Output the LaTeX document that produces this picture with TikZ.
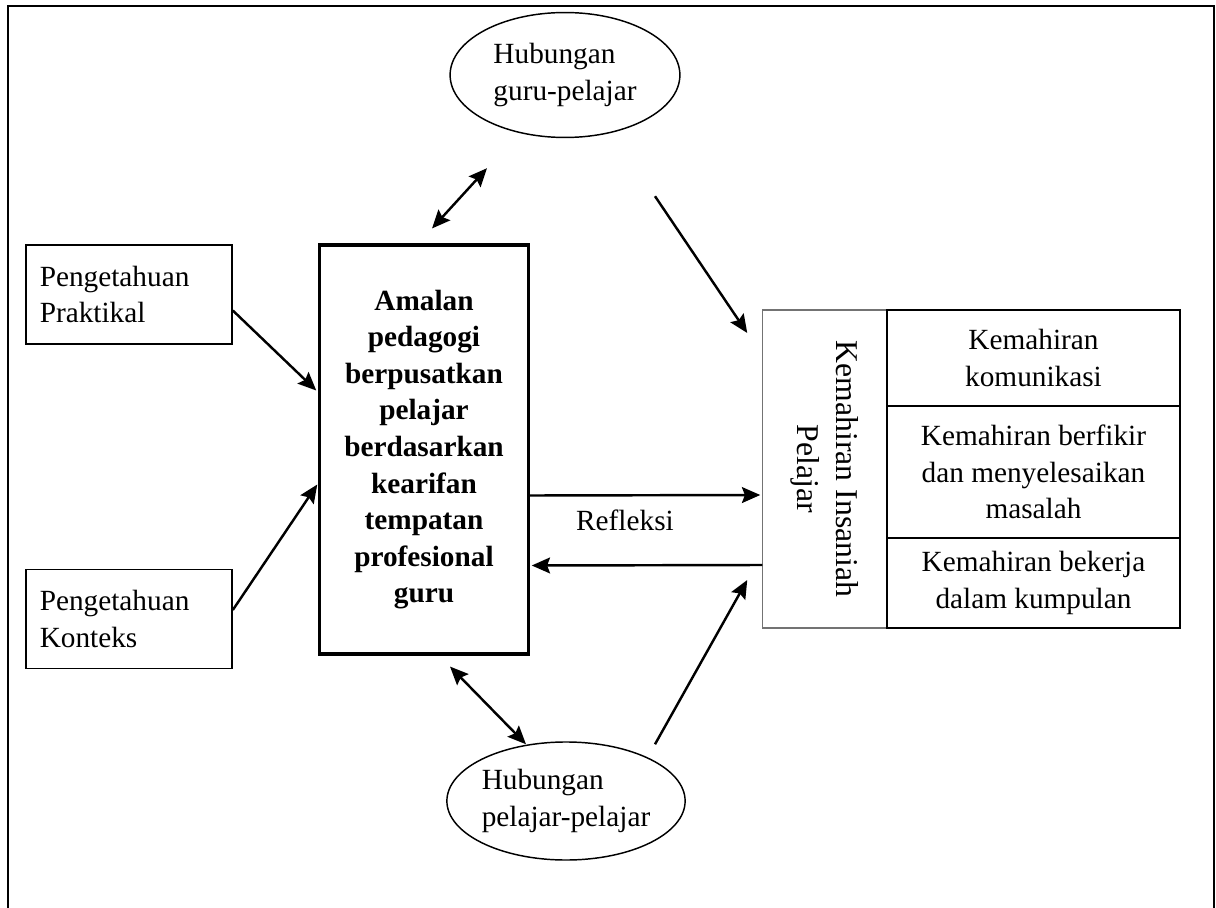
\documentclass[tikz,border=0pt]{standalone}
\usepackage{fontspec}
\setmainfont{Liberation Serif}
\usetikzlibrary{arrows.meta,shapes.geometric,calc}

\begin{document}
\begin{tikzpicture}[x=0.0144cm,y=-0.0144cm,
		tip/.tip={Stealth[length=7.5pt,width=6.5pt,inset=1.2pt]},
		box/.style={draw,line width=0.6pt,align=left,inner xsep=0.2cm,
			text width=2.57cm,minimum height=1.43cm},
		oval/.style={draw,ellipse,line width=0.6pt,align=left,inner sep=0pt},
		cell/.style={draw,line width=0.8pt,align=center,minimum width=4.22cm},
		arr/.style={line width=1pt,-tip},
		darr/.style={line width=1pt,tip-tip}]
		\fontsize{12}{15}\selectfont
		\useasboundingbox (0,0) rectangle (1216,908);
%		\draw[gray!40,step=100] (0,0) grid (1216,908);
		\draw[line width=0.8pt] (8,908) -- (8,6) -- (1214,6) -- (1214,908);

		% left side
		\node[box] (prak) at (129,294.5) {Pengetahuan\\Praktikal};
		\node[box] (kont) at (129,619) {Pengetahuan\\Konteks};
		\node[draw,line width=1.3pt,minimum width=3cm,minimum height=5.89cm,
			align=center,font=\bfseries] (amalan) at (424,449.5)
			{Amalan\\pedagogi\\berpusatkan\\pelajar\\berdasarkan\\kearifan\\tempatan\\profesional\\guru};

		% ellipses
		\node[oval,minimum width=3.31cm,minimum height=1.8cm] (hgp) at (565,75)
			{Hubungan\\guru-pelajar};
		\node[oval,minimum width=3.28cm,minimum height=1.7cm] (hpp) at (566,801)
			{Hubungan\\pelajar-pelajar};

		% right side
		\node[draw=black!55,line width=0.5pt,minimum width=1.79cm,minimum height=4.58cm]
			(insan) at (825,469) {};
		\node[rotate=-90,align=center,font=\fontsize{13}{16}\selectfont]
			(insanlbl) at (insan) {Kemahiran Insaniah\\Pelajar};
		\node[cell,minimum height=1.38cm] (komu) at (1033.5,358) {Kemahiran\\komunikasi};
		\node[cell,minimum height=1.9cm] (berf) at (1033.5,472)
			{Kemahiran berfikir\\dan menyelesaikan\\masalah};
		\node[cell,minimum height=1.3cm] (beke) at (1033.5,583)
			{Kemahiran bekerja\\dalam kumpulan};
		\node (refl) at (625,520) {Refleksi};

		% arrows
		\draw[arr] ($(prak.east)+(0,16)$) -- ($(amalan.west)+(-2,-59)$);
		\draw[arr] ($(kont.east)+(0,-9)$) -- ($(amalan.west)+(-1,35)$);
		\draw[darr] ($(amalan.north)+(8,-15)$) -- ($(hgp.south)+(-78,30)$);
		\draw[darr] ($(amalan.south)+(26,11)$) -- ($(hpp.north)+(-40,3)$);
		\draw[arr] ($(hgp.south)+(90,58)$) -- ($(insan.west)+(-15,-136)$);
		\draw[arr] ($(hpp.north)+(89,3)$) -- ($(insan.west)+(-15,111)$);
		\draw[arr] ($(amalan.east)+(0,46)$) -- ($(insan.west)+(-2,26)$);
		\draw[arr] ($(insan.west)+(0,96)$) -- ($(amalan.east)+(2,116)$);
\end{tikzpicture}
\end{document}
